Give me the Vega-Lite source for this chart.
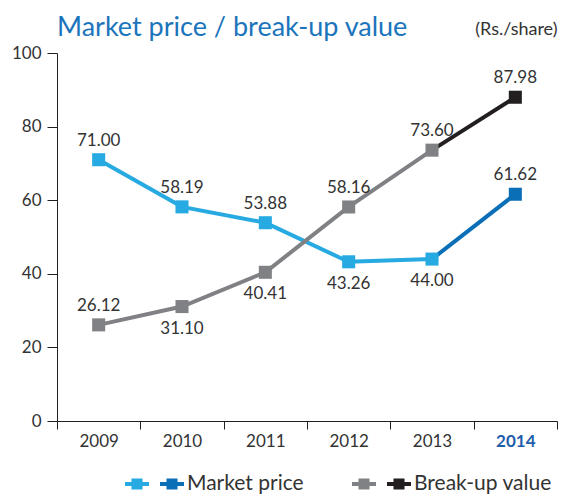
{
  "$schema": "https://vega.github.io/schema/vega-lite/v6.json",
  "width": 500,
  "height": 368,
  "autosize": "none",
  "padding": {"left": 57, "top": 53, "right": 6, "bottom": 77},
  "config": {"view": {"stroke": null}, "font": "Lato"},
  "title": {"text": "Market price / break-up value", "anchor": "start", "frame": "group", "offset": -14, "dy": 29, "fontSize": 27, "font": "Lato", "fontWeight": "normal", "color": "#1B75BC", "baseline": "alphabetic"},
  "data": {"values": [
    {"year": "2009", "series": "Market price", "segment": "mp1", "value": 71.00},
    {"year": "2010", "series": "Market price", "segment": "mp1", "value": 58.19},
    {"year": "2011", "series": "Market price", "segment": "mp1", "value": 53.88},
    {"year": "2012", "series": "Market price", "segment": "mp1", "value": 43.26},
    {"year": "2013", "series": "Market price", "segment": "mp1", "value": 44.00},
    {"year": "2013", "series": "Market price", "segment": "mp2", "value": 44.00},
    {"year": "2014", "series": "Market price", "segment": "mp2", "value": 61.62},
    {"year": "2009", "series": "Break-up value", "segment": "bv1", "value": 26.12},
    {"year": "2010", "series": "Break-up value", "segment": "bv1", "value": 31.10},
    {"year": "2011", "series": "Break-up value", "segment": "bv1", "value": 40.41},
    {"year": "2012", "series": "Break-up value", "segment": "bv1", "value": 58.16},
    {"year": "2013", "series": "Break-up value", "segment": "bv1", "value": 73.60},
    {"year": "2013", "series": "Break-up value", "segment": "bv2", "value": 73.60},
    {"year": "2014", "series": "Break-up value", "segment": "bv2", "value": 87.98}
  ]},
  "encoding": {
    "x": {"field": "year", "type": "ordinal", "scale": {"paddingInner": 0, "paddingOuter": 0},
      "axis": {"title": null, "labelAngle": 0, "tickBand": "extent", "tickSize": 8, "labelPadding": 4, "labelFontSize": 17, "labelFont": "Lato",
        "labelColor": {"condition": {"test": "datum.value == '2014'", "value": "#1F5DAA"}, "value": "#333333"},
        "labelFontWeight": {"condition": {"test": "datum.value == '2014'", "value": "bold"}, "value": "normal"},
        "domainColor": "#231F20", "tickColor": "#231F20"}},
    "y": {"field": "value", "type": "quantitative", "scale": {"domain": [0, 100]},
      "axis": {"values": [0, 20, 40, 60, 80, 100], "grid": false, "tickSize": 10, "labelPadding": 6, "labelFontSize": 17, "labelFont": "Lato", "labelColor": "#333333",
        "domainColor": "#231F20", "tickColor": "#231F20",
        "title": "(Rs./share)", "titleAngle": 0, "titleX": 500, "titleY": -19, "titleAlign": "right", "titleBaseline": "alphabetic", "titleFontSize": 18, "titleFontWeight": "normal", "titleFont": "Lato", "titleColor": "#333333"}}
  },
  "layer": [
    {
      "mark": {"type": "line", "strokeWidth": 4},
      "encoding": {
        "stroke": {"field": "segment", "type": "nominal", "scale": {"domain": ["bv1", "bv2", "mp1", "mp2"], "range": ["#808184", "#231F20", "#27AAE1", "#0B6FB8"]}, "legend": null}
      }
    },
    {
      "transform": [{"filter": "datum.series == 'Market price' && !(datum.year == '2013' && datum.segment == 'mp2')"}],
      "mark": {"type": "point", "shape": "square", "filled": true, "opacity": 1, "size": 170},
      "encoding": {
        "fill": {"field": "segment", "type": "nominal", "scale": {"domain": ["mp1", "mp2"], "range": ["#27AAE1", "#0B6FB8"]},
          "legend": {"title": null, "orient": "none", "legendX": 68, "legendY": 419, "direction": "horizontal", "padding": 0,
            "symbolType": "M-0.46,-0.46H0.46V0.46H-0.46Z M-1,-0.17H1V0.17H-1Z", "symbolSize": 576, "symbolStrokeWidth": 0, "symbolOpacity": 1,
            "labelExpr": "datum.value == 'mp2' ? 'Market price' : ''", "labelFontSize": 21, "labelFont": "Lato", "labelColor": "#333333", "labelOffset": 3, "columnPadding": 8}}
      }
    },
    {
      "transform": [{"filter": "datum.series == 'Break-up value' && !(datum.year == '2013' && datum.segment == 'bv2')"}],
      "mark": {"type": "point", "shape": "square", "filled": true, "opacity": 1, "size": 170},
      "encoding": {
        "color": {"field": "segment", "type": "nominal", "scale": {"domain": ["bv1", "bv2"], "range": ["#808184", "#231F20"]},
          "legend": {"title": null, "orient": "none", "legendX": 295, "legendY": 419, "direction": "horizontal", "padding": 0,
            "symbolType": "M-0.46,-0.46H0.46V0.46H-0.46Z M-1,-0.17H1V0.17H-1Z", "symbolSize": 576, "symbolStrokeWidth": 0, "symbolOpacity": 1,
            "labelExpr": "datum.value == 'bv2' ? 'Break-up value' : ''", "labelFontSize": 21, "labelFont": "Lato", "labelColor": "#333333", "labelOffset": 3, "columnPadding": 8}}
      }
    },
    {
      "transform": [
        {"filter": "!(datum.year == '2013' && (datum.segment == 'mp2' || datum.segment == 'bv2'))"},
        {"filter": "!((datum.series == 'Market price' && (datum.year == '2012' || datum.year == '2013')) || (datum.series == 'Break-up value' && (datum.year == '2010' || datum.year == '2011')))"}
      ],
      "mark": {"type": "text", "dy": -19, "fontSize": 17, "font": "Lato", "color": "#333333"},
      "encoding": {"text": {"field": "value", "type": "quantitative", "format": ".2f"}}
    },
    {
      "transform": [
        {"filter": "!(datum.year == '2013' && (datum.segment == 'mp2' || datum.segment == 'bv2'))"},
        {"filter": "(datum.series == 'Market price' && (datum.year == '2012' || datum.year == '2013')) || (datum.series == 'Break-up value' && (datum.year == '2010' || datum.year == '2011'))"}
      ],
      "mark": {"type": "text", "dy": 22, "fontSize": 17, "font": "Lato", "color": "#333333"},
      "encoding": {"text": {"field": "value", "type": "quantitative", "format": ".2f"}}
    }
  ]
}
